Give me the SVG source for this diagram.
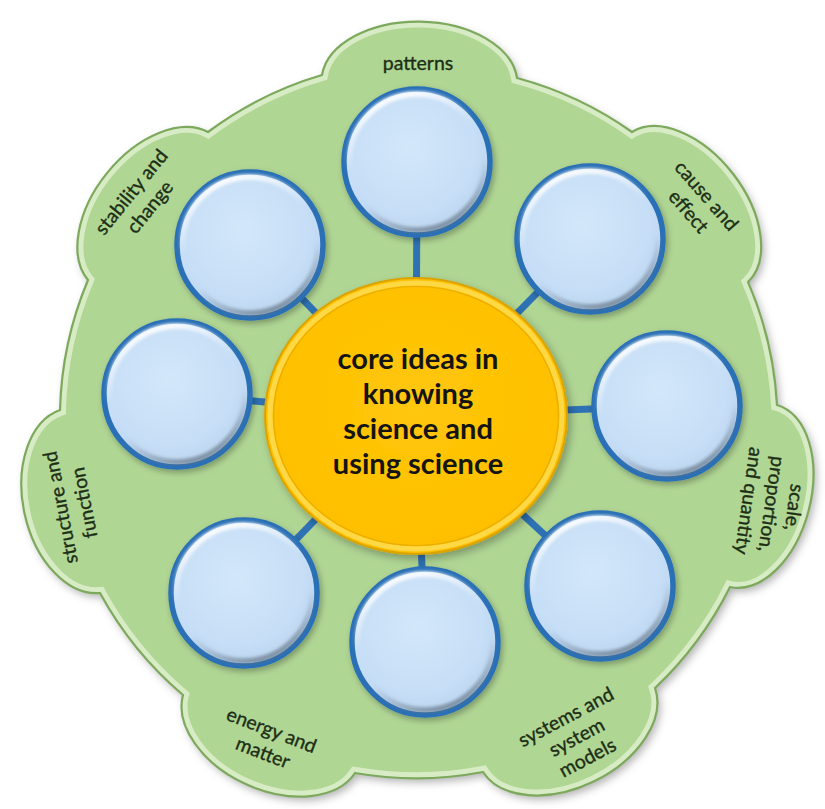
<svg xmlns="http://www.w3.org/2000/svg" width="825" height="809" viewBox="0 0 825 809">
<defs>
<style>
.lbl{font-family:Lato,"Liberation Sans",sans-serif;font-size:19.5px;fill:#1c2e15;stroke:#1c2e15;stroke-width:0.35;text-anchor:middle}
.core{font-family:Lato,"Liberation Sans",sans-serif;font-size:29px;font-weight:700;fill:#141414;text-anchor:middle}
.bub{fill:url(#bubFill);stroke:#2c70b6;stroke-width:5.5}
.rim{fill:none;stroke:url(#rimGrad);stroke-width:6;filter:url(#soft)}
.conn{stroke:#2f72b4;stroke-width:7;stroke-linecap:butt}
</style>
<filter id="sh" x="-15%" y="-15%" width="135%" height="135%">
<feDropShadow dx="3" dy="4" stdDeviation="4" flood-color="#000" flood-opacity="0.3"/>
</filter>
<filter id="shs" x="-20%" y="-20%" width="145%" height="145%">
<feDropShadow dx="2" dy="3" stdDeviation="3" flood-color="#000" flood-opacity="0.3"/>
</filter>
<filter id="soft"><feGaussianBlur stdDeviation="1.6"/></filter>
<radialGradient id="bubFill" cx="45%" cy="40%" r="60%">
<stop offset="0" stop-color="#d3e7fa"/>
<stop offset="0.75" stop-color="#c6def6"/>
<stop offset="1" stop-color="#bcd5ef"/>
</radialGradient>
<linearGradient id="rimGrad" x1="0.3" y1="0" x2="0.7" y2="1">
<stop offset="0" stop-color="#ffffff" stop-opacity="0.95"/>
<stop offset="0.4" stop-color="#ffffff" stop-opacity="0"/>
<stop offset="0.65" stop-color="#6b7f93" stop-opacity="0"/>
<stop offset="1" stop-color="#5b6b7a" stop-opacity="0.7"/>
</linearGradient>
<radialGradient id="coreFill" cx="50%" cy="45%" r="55%">
<stop offset="0" stop-color="#ffc70a"/>
<stop offset="1" stop-color="#ffbf00"/>
</radialGradient>
<path id="blob" d="M 322 75 A 98 61 1 0 1 517 78 A 360 360 0 0 1 632 132 A 95 58 52.3 0 1 748 282 A 360 360 0 0 1 777 405 A 94 58 104.5 0 1 730 587 A 360 360 0 0 1 655 688 A 96 62 154 0 1 483 772 A 360 360 0 0 1 355 773 A 95 62 24.4 0 1 183 695 A 360 360 0 0 1 100 593 A 94 62 77.7 0 1 60 410 A 360 360 0 0 1 88 280 A 96 60 -51 0 1 208 132 A 360 360 0 0 1 322 75 Z"/>
<clipPath id="blobClip"><use href="#blob"/></clipPath>
</defs>

<g id="background">
<use href="#blob" fill="#b0d694" filter="url(#sh)"/>
<g clip-path="url(#blobClip)">
<use href="#blob" fill="none" stroke="#e4f3d6" stroke-width="12" opacity="0.75"/>
</g>
<use href="#blob" fill="none" stroke="#7ca95c" stroke-width="2.2"/>
</g>

<g id="connectors">
<line class="conn" x1="416" y1="416" x2="417" y2="162"/>
<line class="conn" x1="416" y1="416" x2="590" y2="239"/>
<line class="conn" x1="416" y1="416" x2="667" y2="406"/>
<line class="conn" x1="416" y1="416" x2="600" y2="586"/>
<line class="conn" x1="416" y1="416" x2="425" y2="642"/>
<line class="conn" x1="416" y1="416" x2="244" y2="593"/>
<line class="conn" x1="416" y1="416" x2="177" y2="394"/>
<line class="conn" x1="416" y1="416" x2="250" y2="245"/>
</g>

<g id="core">
<ellipse cx="416" cy="416" rx="151" ry="138" fill="url(#coreFill)" stroke="#dba300" stroke-width="2" filter="url(#sh)"/>
<ellipse cx="416" cy="416" rx="146" ry="133" fill="none" stroke="#ffd845" stroke-width="5"/>
<ellipse cx="416" cy="416" rx="142.5" ry="129.5" fill="none" stroke="#e8ad00" stroke-width="1.2"/>
<text class="core" x="418" y="369">core ideas in</text>
<text class="core" x="418" y="404">knowing</text>
<text class="core" x="418" y="439">science and</text>
<text class="core" x="418" y="474">using science</text>
</g>

<g id="n-top"><circle class="bub" cx="417" cy="162" r="73" filter="url(#shs)"/><circle class="rim" cx="417" cy="162" r="68"/></g>
<g id="n-topright"><circle class="bub" cx="590" cy="239" r="73" filter="url(#shs)"/><circle class="rim" cx="590" cy="239" r="68"/></g>
<g id="n-right"><circle class="bub" cx="667" cy="406" r="73" filter="url(#shs)"/><circle class="rim" cx="667" cy="406" r="68"/></g>
<g id="n-bottomright"><circle class="bub" cx="600" cy="586" r="73" filter="url(#shs)"/><circle class="rim" cx="600" cy="586" r="68"/></g>
<g id="n-bottom"><circle class="bub" cx="425" cy="642" r="73" filter="url(#shs)"/><circle class="rim" cx="425" cy="642" r="68"/></g>
<g id="n-bottomleft"><circle class="bub" cx="244" cy="593" r="73" filter="url(#shs)"/><circle class="rim" cx="244" cy="593" r="68"/></g>
<g id="n-left"><circle class="bub" cx="177" cy="394" r="73" filter="url(#shs)"/><circle class="rim" cx="177" cy="394" r="68"/></g>
<g id="n-topleft"><circle class="bub" cx="250" cy="245" r="73" filter="url(#shs)"/><circle class="rim" cx="250" cy="245" r="68"/></g>

<g id="label-patterns"><text class="lbl" x="418" y="70">patterns</text></g>
<g id="label-cause" transform="translate(697,204) rotate(49)">
<text class="lbl" x="0" y="-6">cause and</text>
<text class="lbl" x="0" y="18">effect</text>
</g>
<g id="label-scale" transform="translate(771,504) rotate(98)">
<text class="lbl" x="0" y="-17">scale,</text>
<text class="lbl" x="0" y="6">proportion,</text>
<text class="lbl" x="0" y="29">and quantity</text>
</g>
<g id="label-systems" transform="translate(577,738) rotate(-28)">
<text class="lbl" x="0" y="-17">systems and</text>
<text class="lbl" x="0" y="6">system</text>
<text class="lbl" x="0" y="29">models</text>
</g>
<g id="label-energy" transform="translate(267,742) rotate(21)">
<text class="lbl" x="0" y="-6">energy and</text>
<text class="lbl" x="0" y="18">matter</text>
</g>
<g id="label-structure" transform="translate(73,505) rotate(-101)">
<text class="lbl" x="0" y="-6">structure and</text>
<text class="lbl" x="0" y="18">function</text>
</g>
<g id="label-stability" transform="translate(141,200) rotate(-51)">
<text class="lbl" x="0" y="-6">stability and</text>
<text class="lbl" x="0" y="18">change</text>
</g>
</svg>
